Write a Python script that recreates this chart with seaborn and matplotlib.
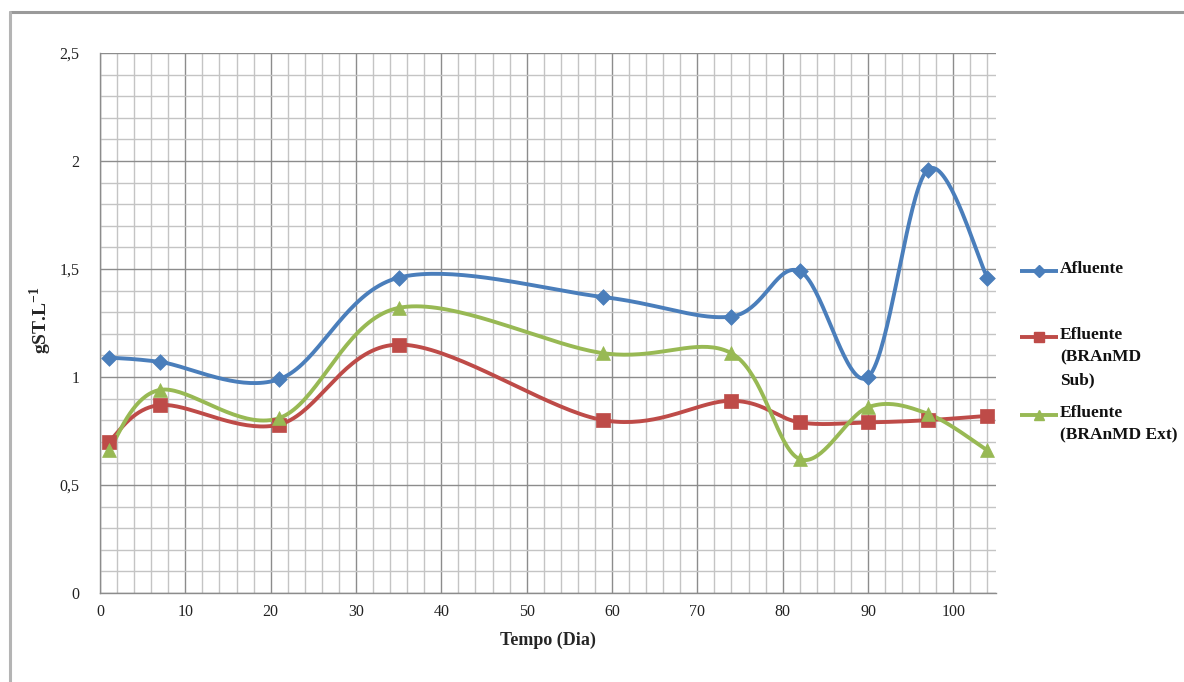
import numpy as np
import pandas as pd
import matplotlib
matplotlib.use("Agg")
import matplotlib.pyplot as plt
from matplotlib.lines import Line2D
from matplotlib.ticker import MultipleLocator, FuncFormatter
import seaborn as sns

# Sampling days
dias = [1, 7, 21, 35, 59, 74, 82, 90, 97, 104]

# Total solids (g ST/L)
afluente = [1.09, 1.07, 0.99, 1.46, 1.37, 1.28, 1.49, 1.00, 1.96, 1.46]
efluente_sub = [0.70, 0.87, 0.78, 1.15, 0.80, 0.89, 0.79, 0.79, 0.80, 0.82]
efluente_ext = [0.66, 0.94, 0.81, 1.32, 1.11, 1.11, 0.62, 0.86, 0.83, 0.66]

series_names = ["Afluente", "Efluente\n(BRAnMD\nSub)", "Efluente\n(BRAnMD Ext)"]
series_colors = ["#4a7ebb", "#be4b48", "#98b954"]
series_markers = ["D", "s", "^"]
series_sizes = [8, 10, 10]


def smooth_curve(x, y, n=40):
    """Catmull-Rom style Bezier smoothing through every point."""
    x = np.asarray(x, float)
    y = np.asarray(y, float)
    px = np.concatenate([[x[0]], x, [x[-1]]])
    py = np.concatenate([[y[0]], y, [y[-1]]])
    xs, ys = [], []
    t = np.linspace(0, 1, n)
    for i in range(1, len(px) - 2):
        p0 = np.array([px[i], py[i]])
        p3 = np.array([px[i + 1], py[i + 1]])
        c1 = p0 + (np.array([px[i + 1], py[i + 1]]) - np.array([px[i - 1], py[i - 1]])) / 6.0
        c2 = p3 - (np.array([px[i + 2], py[i + 2]]) - np.array([px[i], py[i]])) / 6.0
        b = ((1 - t) ** 3)[:, None] * p0 + (3 * (1 - t) ** 2 * t)[:, None] * c1 \
            + (3 * (1 - t) * t ** 2)[:, None] * c2 + (t ** 3)[:, None] * p3
        xs.extend(b[:, 0])
        ys.extend(b[:, 1])
    return np.array(xs), np.array(ys)


sns.set_theme(style="white")
plt.rcParams["font.family"] = ["Liberation Serif", "DejaVu Serif"]
plt.rcParams["mathtext.fontset"] = "custom"
plt.rcParams["mathtext.rm"] = "Liberation Serif"
plt.rcParams["mathtext.bf"] = "Liberation Serif:bold"

W, H = 1184, 682
fig = plt.figure(figsize=(W / 100, H / 100), dpi=100)
ax = fig.add_axes([100 / W, 1 - 593 / H, 896 / W, 540 / H])

for vals, name, col, mk, ms in zip([afluente, efluente_sub, efluente_ext],
                                   series_names, series_colors, series_markers, series_sizes):
    sx, sy = smooth_curve(dias, vals)
    curve = pd.DataFrame({"x": sx, "y": sy})
    sns.lineplot(data=curve, x="x", y="y", ax=ax, color=col, lw=2.8, sort=False,
                 estimator=None, zorder=3)
    pts = pd.DataFrame({"x": dias, "y": vals})
    sns.scatterplot(data=pts, x="x", y="y", ax=ax, color=col, marker=mk, s=ms ** 2,
                    edgecolor=col, linewidth=0.5, zorder=4)

ax.set_xlim(0, 105)
ax.set_ylim(0, 2.5)
ax.xaxis.set_major_locator(MultipleLocator(10))
ax.xaxis.set_minor_locator(MultipleLocator(2))
ax.yaxis.set_major_locator(MultipleLocator(0.5))
ax.yaxis.set_minor_locator(MultipleLocator(0.1))
ax.yaxis.set_major_formatter(FuncFormatter(lambda v, p: f"{v:g}".replace(".", ",")))

ax.grid(which="major", color="#8c8c8c", lw=1.0, zorder=0)
ax.grid(which="minor", color="#c4c4c4", lw=1.0, zorder=0)
ax.set_axisbelow(True)
for side in ["top", "right"]:
    ax.spines[side].set_visible(False)
for side in ["left", "bottom"]:
    ax.spines[side].set_color("#8c8c8c")
    ax.spines[side].set_linewidth(1.0)

ax.tick_params(axis="both", which="major", direction="out", length=5, width=1,
               color="#8c8c8c", labelsize=11.5, labelcolor="#222222")
ax.tick_params(axis="y", which="major", pad=10)
ax.tick_params(axis="x", which="major", pad=8, length=0)
ax.tick_params(which="minor", length=0)

ax.set_xlabel("Tempo (Dia)", fontsize=13, fontweight="bold", labelpad=8)
ax.set_ylabel(r"gST.L$^{\mathbf{-1}}$", fontsize=14, fontweight="bold")
ax.yaxis.set_label_coords(-46 / 896, (593 - 320) / 540)

# Legend: handle line with marker, label starting at the same height
legend_rows = [271, 337, 415]
for name, col, mk, ms, yy in zip(series_names, series_colors, series_markers,
                                 series_sizes, legend_rows):
    yf = 1 - yy / H
    fig.add_artist(Line2D([1020 / W, 1058 / W], [yf, yf], transform=fig.transFigure,
                          color=col, lw=2.8, solid_capstyle="butt"))
    fig.add_artist(Line2D([1039 / W], [yf], transform=fig.transFigure, color=col,
                          marker=mk, markersize=ms * 0.75, lw=0))
    fig.text(1060 / W, 1 - (yy - 10) / H, name, fontsize=12.5, fontweight="bold",
             va="top", ha="left", linespacing=1.55, color="#111111")

# Outer chart border (top and left edges)
fig.add_artist(Line2D([10 / W, 1.0], [1 - 12 / H, 1 - 12 / H],
                      transform=fig.transFigure, color="#9a9a9a", lw=2.2))
fig.add_artist(Line2D([10 / W, 10 / W], [0.0, 1 - 12 / H],
                      transform=fig.transFigure, color="#b4b4b4", lw=2.2))

fig.savefig("out.png", dpi=100, facecolor="white")
